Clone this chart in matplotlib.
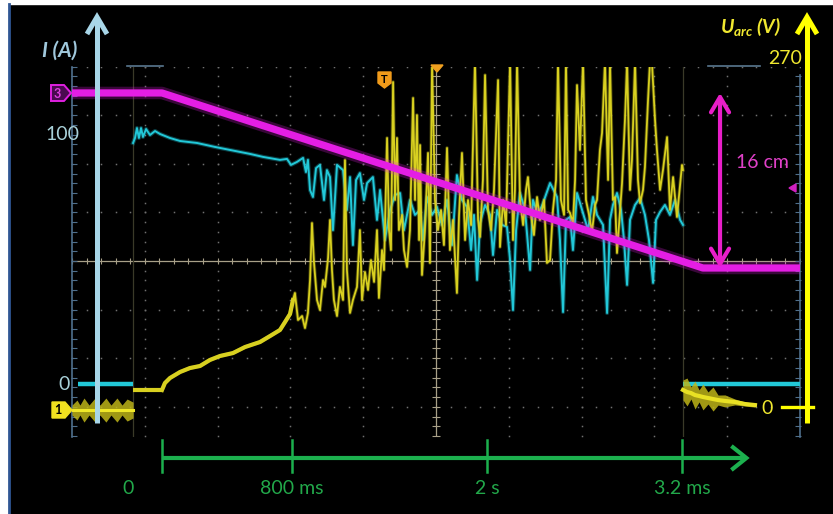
import numpy as np
import matplotlib
matplotlib.use("Agg")
import matplotlib.pyplot as plt
import matplotlib.transforms as mtrans
from matplotlib.patches import Polygon, Rectangle

plt.rcParams['font.family'] = ['Lato', 'DejaVu Sans']
plt.rcParams['mathtext.fontset'] = 'custom'
plt.rcParams['mathtext.rm'] = 'Lato'
plt.rcParams['mathtext.it'] = 'Lato:italic:bold'
plt.rcParams['mathtext.bf'] = 'Lato:bold'

# ------------------------------------------------------------------ data
# torch position (cm) vs time (ms)
pos_t = [-554, 0, 3329, 3926]
pos_cm = [16, 16, 0, 0]

# arc current (A)
cur_pre_t = [-517, -178]
cur_pre_A = [0, 0]
cur_t = [-178, -166, -154, -142, -129, -117, -98, -74, -43, -12,
         49, 111, 215, 326, 418, 542, 622, 726, 769, 794,
         831, 868, 886, 898, 911, 929, 948, 972, 997, 1015,
         1034, 1052, 1065, 1077, 1114, 1138, 1157, 1175, 1194, 1218,
         1243, 1262, 1298, 1323, 1342, 1372, 1403, 1434, 1465, 1489,
         1526, 1557, 1588, 1606, 1631, 1662, 1692, 1723, 1754, 1785,
         1815, 1846, 1877, 1902, 1920, 1939, 1957, 1988, 2019, 2037,
         2062, 2092, 2123, 2142, 2160, 2179, 2203, 2234, 2265, 2283,
         2314, 2345, 2388, 2431, 2449, 2468, 2486, 2511, 2529, 2554,
         2585, 2622, 2652, 2677, 2714, 2739, 2757, 2775, 2800, 2825,
         2843, 2862, 2880, 2911, 2942, 2972, 2997, 3022, 3040, 3065,
         3095, 3126, 3157, 3188, 3206]
cur_A = [96.8, 98.8, 102.8, 98.8, 102.8, 99.2, 102.4, 100.0, 101.6, 100.4,
         98.8, 97.6, 96.8, 95.2, 94.0, 92.4, 91.2, 90.0, 90.4, 88.0,
         89.2, 90.8, 85.1, 90.0, 77.9, 75.1, 86.7, 88.0, 73.9, 85.9,
         83.1, 61.8, 75.1, 88.0, 85.9, 69.9, 83.1, 55.8, 81.9, 84.7,
         73.9, 80.7, 83.1, 65.9, 77.9, 57.8, 69.9, 75.9, 76.7, 61.8,
         73.9, 67.9, 69.9, 57.8, 75.1, 67.9, 71.1, 63.9, 73.9, 55.8,
         83.9, 73.9, 71.1, 53.8, 67.9, 41.8, 64.7, 71.9, 67.9, 51.8,
         69.9, 63.9, 63.1, 49.8, 29.7, 61.8, 76.7, 69.9, 45.8, 73.9,
         67.9, 72.7, 80.7, 75.1, 57.8, 28.9, 65.9, 67.1, 53.8, 76.7,
         69.9, 61.8, 75.1, 67.9, 63.9, 28.5, 65.9, 71.9, 76.7, 69.9,
         57.8, 39.8, 65.9, 71.9, 74.7, 67.9, 57.8, 40.6, 65.9, 69.1,
         71.9, 67.9, 73.9, 65.9, 63.9]
cur_post_t = [3206, 3926]
cur_post_A = [0, 0]

# arc voltage (V)
volt_pre_t = [-554, -523, -505, -480, -449, -412, -382, -345, -314, -277, -246, -215, -178]
volt_pre_hw = [3.9, 7.8, 3.9, 9.4, 3.9, 9.4, 3.9, 9.4, 3.9, 9.4, 3.9, 8.6, 6.2]
volt_pre_level = -1.6
volt_flat_t = [-178, 0]
volt_flat_V = [14.1, 14.1]
volt_t = [0, 18, 49, 111, 172, 234, 295, 357, 437, 511,
          603, 665, 726, 757, 788, 806, 818, 837, 862, 880,
          898, 911, 923, 935, 954, 972, 991, 1003, 1022, 1034,
          1046, 1058, 1077, 1095, 1114, 1126, 1138, 1157, 1175, 1200,
          1218, 1231, 1249, 1268, 1286, 1305, 1323, 1335, 1354, 1366,
          1385, 1397, 1409, 1422, 1434, 1446, 1458, 1477, 1489, 1508,
          1526, 1545, 1557, 1569, 1582, 1588, 1600, 1618, 1637, 1649,
          1662, 1680, 1698, 1717, 1735, 1754, 1772, 1791, 1815, 1828,
          1846, 1865, 1883, 1902, 1926, 1945, 1957, 1975, 1988, 2006,
          2025, 2043, 2068, 2080, 2099, 2117, 2142, 2160, 2172, 2185,
          2203, 2222, 2240, 2252, 2271, 2289, 2308, 2326, 2351, 2369,
          2388, 2406, 2425, 2437, 2455, 2474, 2486, 2499, 2511, 2529,
          2542, 2554, 2572, 2591, 2609, 2628, 2646, 2665, 2677, 2695,
          2708, 2726, 2745, 2757, 2775, 2788, 2800, 2819, 2831, 2849,
          2862, 2880, 2892, 2911, 2929, 2942, 2960, 2972, 2991, 3003,
          3015, 3034, 3046, 3065, 3083, 3108, 3126, 3145, 3169, 3188,
          3200, 3206]
volt_V = [14.1, 19.5, 23.4, 28.1, 31.2, 32.8, 37.5, 40.6, 42.9, 47.6,
          51.5, 56.2, 60.9, 67.1, 73.4, 84.3, 89.8, 68.7, 71.8, 62.4,
          74.2, 99.9, 144.4, 114.0, 84.3, 76.5, 99.9, 94.5, 117.1, 146.8,
          107.7, 84.3, 71.8, 94.5, 84.3, 193.6, 107.7, 74.2, 84.3, 94.5,
          138.9, 84.3, 106.2, 92.1, 115.5, 98.4, 138.9, 85.9, 123.3, 107.7,
          210.8, 138.9, 123.3, 254.5, 162.4, 210.8, 138.9, 150.7, 123.3, 110.1,
          138.9, 242.0, 162.4, 228.7, 131.1, 205.3, 103.8, 138.9, 199.1, 113.2,
          270, 162.4, 138.9, 154.6, 127.2, 203.0, 123.3, 146.8, 89.8, 150.7,
          199.1, 131.1, 162.4, 142.8, 270, 146.8, 133.5, 178.0, 259.9, 154.6,
          138.9, 170.2, 256.0, 125.7, 162.4, 142.8, 270, 131.1, 170.2, 270,
          162.4, 142.8, 170.2, 180.3, 150.7, 135.0, 164.7, 146.8, 162.4, 113.2,
          115.5, 154.6, 178.0, 270, 162.4, 150.7, 270, 154.6, 152.2, 144.4,
          178.0, 252.1, 201.4, 270, 162.4, 150.7, 137.4, 158.5, 162.4, 201.4,
          214.7, 270, 178.0, 270, 162.4, 164.7, 121.0, 154.6, 175.6, 224.8,
          270, 170.2, 193.6, 270, 178.0, 160.0, 170.2, 188.1, 240.4, 270,
          270, 224.8, 201.4, 170.2, 185.8, 211.5, 154.6, 180.3, 149.1, 174.1,
          189.7, 185.8]
volt_post_t = [3206, 3231, 3255, 3280, 3305, 3329, 3360, 3391, 3422, 3465, 3526, 3588, 3649]
volt_post_V = [14.1, 12.5, 11.7, 10.1, 9.4, 8.6, 7.8, 7.0, 6.2, 5.5, 4.7, 3.1, 2.3]
volt_post_hw = [7.8, 10.9, 4.7, 10.9, 4.7, 10.1, 4.7, 9.4, 3.9, 4.7, 2.3, 1.6, 1.6]

# time axis annotation
time_ticks = [0, 800, 2000, 3200]
time_labels = ['0', '800 ms', '2 s', '3.2 ms']
stroke_cm = 16

assert len(cur_t) == len(cur_A)
assert len(volt_t) == len(volt_V)

# ------------------------------------------------------------------ layout
W, H = 833, 514
L, R, T, B = 72, 800, 67, 437          # screen area in pixels
X0 = 162                               # pixel of t = 0
PXMS = 0.1625                          # pixels per ms
T0, T1 = (L - X0) / PXMS, (R - X0) / PXMS

fig = plt.figure(figsize=(W / 100, H / 100), dpi=100, facecolor='black')
rect = [L / W, 1 - B / H, (R - L) / W, (B - T) / H]


def mk(xlim, ylim, z):
    a = fig.add_axes(rect, zorder=z)
    a.set_xlim(*xlim)
    a.set_ylim(*ylim)
    a.axis('off')
    return a


DIV = 48.6
YC = 261
ax_g = mk((-5, 5), (-(B - YC) / DIV, (YC - T) / DIV), 1)
ax_I = mk((T0, T1), ((384 - B) / 2.49, (384 - T) / 2.49), 2)
ax_U = mk((T0, T1), ((408 - B) / 1.281, (408 - T) / 1.281), 3)
ax_P = mk((T0, T1), ((268 - B) / 10.94, (268 - T) / 10.94), 4)

ov = fig.add_axes([0, 0, 1, 1], zorder=6)
ov.set_xlim(0, W)
ov.set_ylim(H, 0)
ov.axis('off')

# ------------------------------------------------------------------ graticule
dotc = '#707070'
gx = np.arange(-5, 5.001, 0.2)
gy = np.arange(-3.6, 4.001, 0.2)
for xv in [-4, -3, -2, -1, 1, 2, 3, 4]:
    ax_g.plot(np.full_like(gy, xv), gy, ls='none', marker='s', ms=1.1, mec='none', color=dotc)
for yv in [4, 3, 2, 1, -1, -2, -3]:
    ax_g.plot(gx, np.full_like(gx, yv), ls='none', marker='s', ms=1.1, mec='none', color=dotc)
cc = '#a8a088'
ax_g.axhline(0, color=cc, lw=0.9)
ax_g.axvline(0, color=cc, lw=0.9)
ax_g.plot(gx, np.zeros_like(gx), ls='none', marker='|', ms=5, mew=0.8, color=cc)
ax_g.plot(np.zeros_like(gy), gy, ls='none', marker='_', ms=6, mew=0.8, color=cc)
ec = '#4f6f8c'
ax_g.plot([-5, -5], [-3.62, 4], color=ec, lw=1.2, clip_on=False)
ax_g.plot([5, 5], [-3.62, 3.83], color=ec, lw=1.2, clip_on=False)
ax_g.plot(np.full_like(gy, -4.97), gy, ls='none', marker='_', ms=4, mew=0.8, color=ec, clip_on=False)
ax_g.plot(np.full_like(gy[:-1], 4.97), gy[:-1], ls='none', marker='_', ms=4, mew=0.8, color=ec, clip_on=False)

# faint acquisition markers
for tv in (cur_pre_t[1], cur_post_t[0]):
    ax_I.axvline(tv, color='#3a3a28', lw=0.9)

# ------------------------------------------------------------------ traces
cyan = '#22c8d8'
ax_I.plot(cur_pre_t, cur_pre_A, color=cyan, lw=3.2, solid_capstyle='butt')
ax_I.plot(cur_post_t, cur_post_A, color=cyan, lw=3.2, solid_capstyle='butt')
ax_I.plot(cur_t, cur_A, color=cyan, lw=3.0, alpha=0.3)
ax_I.plot(cur_t, cur_A, color=cyan, lw=1.4)

yel = '#d8d020'
lv = np.full(len(volt_pre_t), volt_pre_level)
ax_U.fill_between(volt_pre_t, lv - np.array(volt_pre_hw), lv + np.array(volt_pre_hw),
                  color='#bdb418', alpha=0.85, lw=0)
ax_U.plot(volt_pre_t, lv, color='#f0e828', lw=2.2)
ax_U.plot(volt_flat_t, volt_flat_V, color=yel, lw=3.0, solid_capstyle='butt')
ax_U.plot(volt_t, volt_V, color=yel, lw=2.6, alpha=0.3)
ax_U.plot(volt_t, volt_V, color=yel, lw=1.3)
ax_U.plot(volt_t[:16], volt_V[:16], color=yel, lw=3.0)
vp = np.array(volt_post_V)
vh = np.array(volt_post_hw)
ax_U.fill_between(volt_post_t, vp - vh, vp + vh, color='#bdb418', alpha=0.85, lw=0)
ax_U.plot(volt_post_t, volt_post_V, color='#e8e024', lw=3.0)

mag = '#e41ee4'
ax_P.plot(pos_t, pos_cm, color=mag, lw=9, alpha=0.25, solid_capstyle='butt')
ax_P.plot(pos_t, pos_cm, color=mag, lw=5.2, solid_capstyle='butt')

# stroke arrow (16 cm)
t_arrow = 3434
ax_P.annotate('', xy=(t_arrow, stroke_cm), xytext=(t_arrow, 0),
              arrowprops=dict(arrowstyle='<->,head_length=1.1,head_width=0.65',
                              color='#e81ec8', lw=3, shrinkA=0, shrinkB=0),
              annotation_clip=False)
ax_P.text(t_arrow + 260, stroke_cm * 0.6, f'{stroke_cm} cm', color='#e040c8',
          fontsize=14, ha='center', va='center', clip_on=False)

# ------------------------------------------------------------------ overlay
ov.add_patch(Rectangle((0, 0), W, 4, color='white', zorder=0))
ov.add_patch(Rectangle((0, 0), 8, H, color='white', zorder=0))
ov.plot([9.5, 9.5], [4, H], color='#2f5694', lw=2)

# current axis arrow
lb = '#a8d6e8'
ov.plot([97, 97], [423, 20], color=lb, lw=3.6, solid_capstyle='butt')
ov.plot([87, 97, 107], [34, 17, 34], color=lb, lw=3.6, solid_joinstyle='miter', solid_capstyle='butt')
ov.text(60, 51, 'I (A)', color='#a0c8dc', fontsize=15, fontstyle='italic',
        fontweight='bold', ha='center', va='center')
ov.text(62, 135, '100', color='#a8d0d8', fontsize=14, ha='center', va='center')
ov.text(64, 384, '0', color='#a8d0d8', fontsize=14, ha='center', va='center')

# voltage axis arrow
yy = '#ffff00'
ov.plot([807, 807], [423, 20], color=yy, lw=3.6, solid_capstyle='butt')
ov.plot([797, 807, 817], [34, 17, 34], color=yy, lw=3.6, solid_joinstyle='miter', solid_capstyle='butt')
ov.plot([782, 813], [407, 407], color=yy, lw=2.4)
ov.text(781, 26, r'$U_{arc}$ (V)', color='#f0e830', fontsize=14, fontstyle='italic',
        fontweight='bold', ha='right', va='center')
ov.text(785, 58, '270', color='#f0e830', fontsize=14, ha='center', va='center')
ov.text(767, 408, '0', color='#f0e830', fontsize=14, ha='center', va='center')

# channel markers
ov.add_patch(Polygon([(51, 85), (64, 85), (71, 93), (64, 101), (51, 101)],
                     closed=True, fc='#4a0a50', ec='#e020e0', lw=1.4))
ov.text(57.5, 93.5, '3', color='#e040e0', fontsize=9, fontweight='bold', ha='center', va='center')
ov.add_patch(Polygon([(52, 402), (65, 402), (72, 410), (65, 418), (52, 418)],
                     closed=True, fc='#f0e020', ec='#f0e020', lw=1))
ov.text(58, 410.5, '1', color='black', fontsize=9, fontweight='bold', ha='center', va='center')
ov.add_patch(Polygon([(378, 72), (391, 72), (391, 83), (384.5, 88), (378, 83)],
                     closed=True, fc='#f09a1a', ec='#f09a1a'))
ov.text(384.5, 79.5, 'T', color='black', fontsize=8, fontweight='bold', ha='center', va='center')
ov.add_patch(Polygon([(431, 65), (443, 65), (437, 72)], closed=True, fc='#f0a020', ec='#f0a020'))
ov.add_patch(Polygon([(789, 188), (796, 184), (796, 192)], closed=True, fc='#d020c0', ec='#d020c0'))

# top position bars
ov.plot([127, 163], [66, 66], color='#5a7890', lw=1.2)
ov.plot([708, 760], [66, 66], color='#5a7890', lw=1.2)

# green time axis (x in ms, y in pixels)
gtr = mtrans.blended_transform_factory(ax_I.transData, ov.transData)
green = '#1cb04e'
axis_end_t = 3590
ov.plot([time_ticks[0], axis_end_t], [458, 458], color=green, lw=3.0,
        transform=gtr, solid_capstyle='butt', clip_on=False)
tip = ov.transData.inverted().transform(gtr.transform((axis_end_t, 458)))[0]
ov.plot([tip - 14, tip + 1, tip - 14], [446, 458, 470], color=green, lw=3.0,
        solid_joinstyle='miter', solid_capstyle='butt')
label_dx = [-34, 0, 0, 0]
for tv, lab, dx in zip(time_ticks, time_labels, label_dx):
    ov.plot([tv, tv], [440, 472], color=green, lw=1.8, transform=gtr, clip_on=False)
    off = mtrans.ScaledTranslation(dx / 100, 0, fig.dpi_scale_trans)
    ov.text(tv, 488, lab, color='#22a84a', fontsize=14, ha='center', va='center',
            transform=gtr + off, clip_on=False)

fig.savefig('out.png', dpi=100, facecolor='black')
